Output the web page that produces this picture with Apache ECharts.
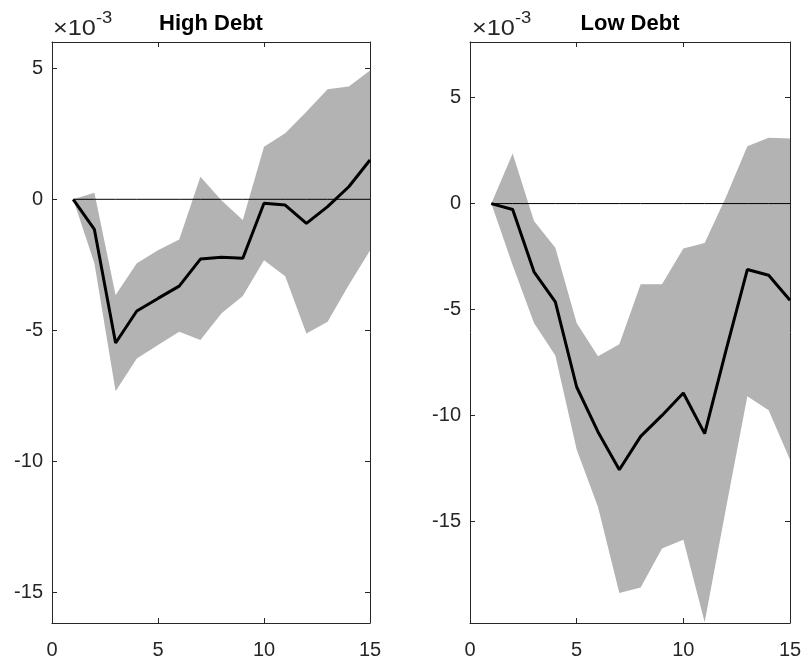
<!DOCTYPE html>
<html lang="en">
<head>
    <meta charset="UTF-8">
    <title>High Debt / Low Debt</title>
    <script src="https://cdn.jsdelivr.net/npm/echarts@6.0.0/dist/echarts.min.js"></script>
    <style>
        body { margin: 0; background: #fff; }
        #chart { width: 805px; height: 660px; }
    </style>
</head>
<body>
    <div id="chart"></div>
    <script>
        // horizon (periods)
        const horizon = [1, 2, 3, 4, 5, 6, 7, 8, 9, 10, 11, 12, 13, 14, 15];

        // High Debt (x 10^-3)
        const highMean  = [0, -1.15, -5.48, -4.26, -3.78, -3.31, -2.28, -2.21, -2.25, -0.15, -0.22, -0.92, -0.28, 0.48, 1.50];
        const highUpper = [0, 0.25, -3.65, -2.44, -1.94, -1.53, 0.86, -0.05, -0.79, 2.00, 2.52, 3.34, 4.20, 4.30, 4.91];
        const highLower = [0, -2.44, -7.32, -6.07, -5.56, -5.05, -5.37, -4.35, -3.69, -2.32, -2.93, -5.12, -4.67, -3.27, -1.95];

        // Low Debt (x 10^-3)
        const lowMean  = [0, -0.28, -3.22, -4.64, -8.65, -10.77, -12.55, -10.98, -9.99, -8.93, -10.85, -6.92, -3.11, -3.38, -4.56];
        const lowUpper = [0, 2.36, -0.82, -2.08, -5.63, -7.20, -6.64, -3.81, -3.81, -2.12, -1.86, 0.31, 2.70, 3.10, 3.07];
        const lowLower = [0, -2.91, -5.63, -7.16, -11.60, -14.31, -18.37, -18.11, -16.27, -15.85, -19.75, -14.37, -9.09, -9.75, -12.08];

        const yTicks = [-15, -10, -5, 0, 5];
        const titles = ['High Debt', 'Low Debt'];

        const chart = echarts.init(document.getElementById('chart'));

        const axisColor = '#262626';
        const font = 'Liberation Sans, Arial, sans-serif';

        function xAxes(gridIndex) {
            const base = {
                gridIndex: gridIndex, type: 'value', min: 0, max: 15, interval: 5,
                splitLine: { show: false },
                axisLine: { show: true, onZero: false, lineStyle: { color: axisColor, width: 1 } },
                axisTick: { show: true, inside: true, length: 5, lineStyle: { color: axisColor } }
            };
            return [
                Object.assign({}, base, {
                    position: 'bottom',
                    axisLabel: { show: true, color: axisColor, fontSize: 20, fontFamily: font, margin: 17 }
                }),
                Object.assign({}, base, { position: 'top', axisLabel: { show: false } })
            ];
        }

        function yAxes(gridIndex, min, max) {
            const base = {
                gridIndex: gridIndex, type: 'value', min: min, max: max,
                splitLine: { show: false },
                axisLine: { show: true, onZero: false, lineStyle: { color: axisColor, width: 1 } },
                axisTick: { show: true, inside: true, length: 5, customValues: yTicks, lineStyle: { color: axisColor } }
            };
            return [
                Object.assign({}, base, {
                    position: 'left',
                    axisLabel: { show: true, customValues: yTicks, color: axisColor, fontSize: 20, fontFamily: font, margin: 9 }
                }),
                Object.assign({}, base, { position: 'right', axisLabel: { show: false } })
            ];
        }

        function bandSeries(axisBase, lower, upper) {
            return {
                type: 'custom',
                xAxisIndex: axisBase, yAxisIndex: axisBase,
                data: horizon.map((x, i) => [x, lower[i], upper[i]]),
                encode: { x: 0, y: [1, 2] },
                silent: true,
                z: 1,
                renderItem: function (params, api) {
                    if (params.dataIndex !== 0) return;
                    const pts = [];
                    for (let i = 0; i < horizon.length; i++) pts.push(api.coord([horizon[i], upper[i]]));
                    for (let i = horizon.length - 1; i >= 0; i--) pts.push(api.coord([horizon[i], lower[i]]));
                    return { type: 'polygon', shape: { points: pts }, style: { fill: '#b3b3b3', stroke: null } };
                }
            };
        }

        function zeroSeries(axisBase) {
            return {
                type: 'line', xAxisIndex: axisBase, yAxisIndex: axisBase,
                data: horizon.map(x => [x, 0]),
                showSymbol: false, silent: true, z: 2,
                lineStyle: { color: '#000', width: 1 }
            };
        }

        function meanSeries(axisBase, values) {
            return {
                type: 'line', xAxisIndex: axisBase, yAxisIndex: axisBase,
                data: horizon.map((x, i) => [x, values[i]]),
                showSymbol: false, silent: true, z: 3,
                lineStyle: { color: '#000', width: 3 }
            };
        }

        // "x10^-3" exponent note above each y axis
        function expLabel(x) {
            return {
                type: 'text', x: x, y: 11, scaleX: 1.15,
                style: {
                    text: '{a|\u00d710}{b|-3}',
                    fill: axisColor,
                    rich: {
                        a: { fontSize: 22, fontFamily: font, lineHeight: 29, verticalAlign: 'bottom', fill: axisColor },
                        b: { fontSize: 16, fontFamily: font, lineHeight: 29, verticalAlign: 'top', fill: axisColor }
                    }
                }
            };
        }

        function titleLabel(x, text) {
            return {
                type: 'text', x: x, y: 24,
                style: {
                    text: text, fill: '#000', fontSize: 22, fontWeight: 'bold', fontFamily: font,
                    align: 'center', verticalAlign: 'middle'
                }
            };
        }

        chart.setOption({
            animation: false,
            grid: [
                { left: 52, right: 435, top: 42, bottom: 37 },
                { left: 470, right: 15, top: 42, bottom: 37 }
            ],
            xAxis: xAxes(0).concat(xAxes(1)),
            yAxis: yAxes(0, -16.16, 6.0).concat(yAxes(1, -19.78, 7.62)),
            series: [
                bandSeries(0, highLower, highUpper),
                zeroSeries(0),
                meanSeries(0, highMean),
                bandSeries(2, lowLower, lowUpper),
                zeroSeries(2),
                meanSeries(2, lowMean)
            ],
            graphic: [
                expLabel(53), titleLabel(211, titles[0]),
                expLabel(472), titleLabel(630, titles[1])
            ]
        });
    </script>
</body>
</html>
